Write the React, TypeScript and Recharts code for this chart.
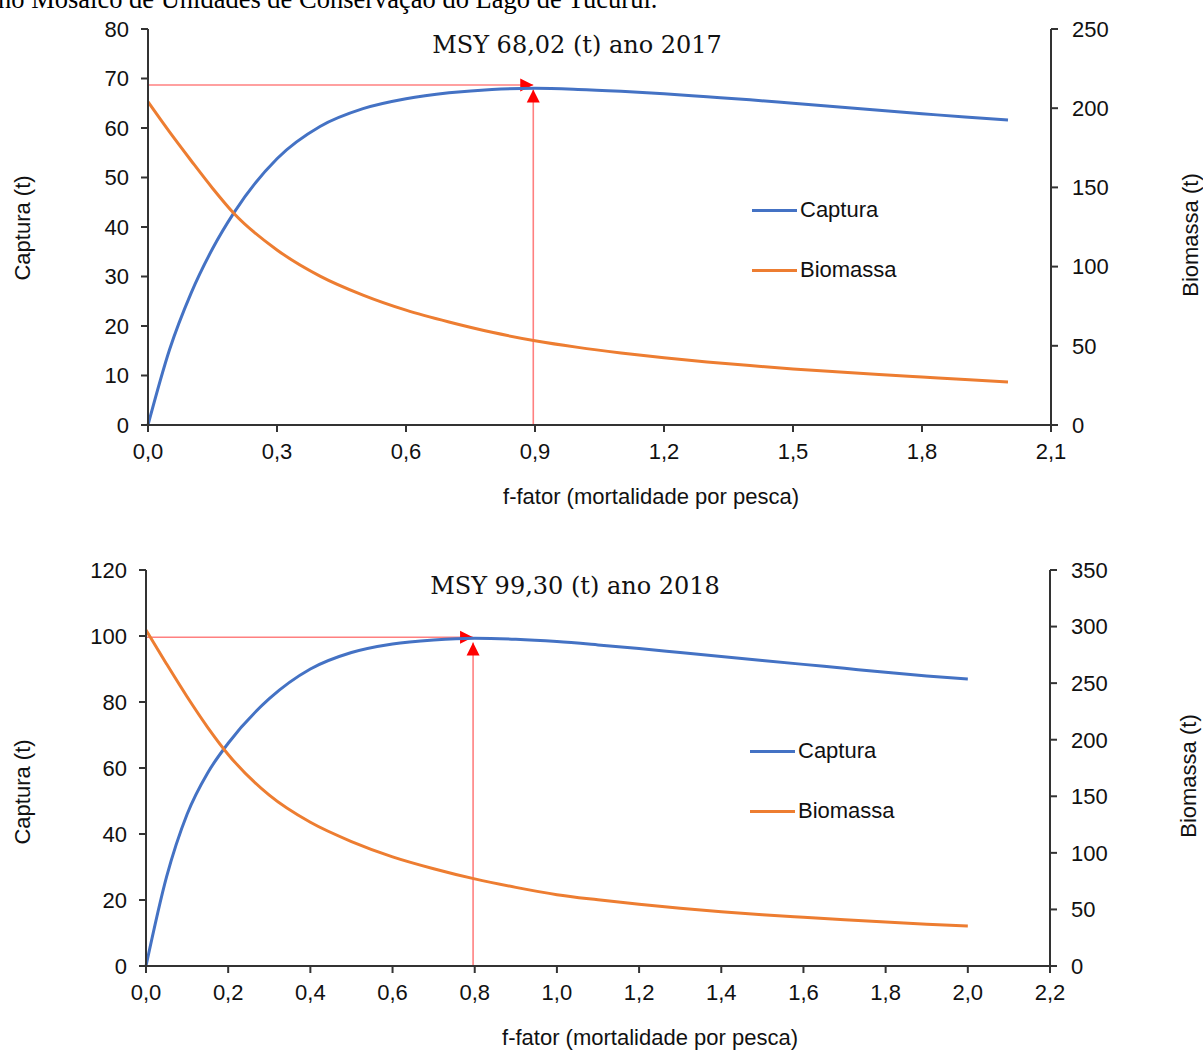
import React from 'react';
import { ComposedChart, Line, XAxis, YAxis, ReferenceLine, Legend } from 'recharts';

// ---------- data ----------
const fValues = [0, 0.05, 0.1, 0.15, 0.2, 0.3, 0.4, 0.5, 0.6, 0.7, 0.8, 0.9, 1.0, 1.1, 1.2, 1.3, 1.4, 1.5, 1.6, 1.7, 1.8, 1.9, 2.0];

const captura2017 = [0, 15.2, 26.6, 35.6, 42.9, 53.8, 60.3, 63.9, 65.9, 67.1, 67.8, 68.02, 67.8, 67.4, 66.9, 66.3, 65.7, 65.0, 64.3, 63.6, 62.9, 62.2, 61.6];
const biomassa2017 = [204, 185, 167, 149.5, 133.5, 110.5, 94, 82, 72.5, 65, 58.5, 53.2, 49, 45.5, 42.4, 39.8, 37.5, 35.4, 33.6, 31.9, 30.3, 28.7, 27.2];

const captura2018 = [0, 27, 46, 58.5, 67.5, 81, 90, 95, 97.6, 98.8, 99.3, 99.0, 98.3, 97.3, 96.2, 95.0, 93.8, 92.6, 91.4, 90.2, 89.0, 87.9, 87.0];
const biomassa2018 = [297, 267, 238, 211, 187, 151, 127, 110, 96.5, 86, 77, 69.5, 63, 58.5, 54.5, 51, 48, 45.3, 43, 40.8, 38.8, 37, 35.4];

const xTicks2017 = [0, 0.3, 0.6, 0.9, 1.2, 1.5, 1.8, 2.1];
const leftTicks2017 = [0, 10, 20, 30, 40, 50, 60, 70, 80];
const rightTicks2017 = [0, 50, 100, 150, 200, 250];

const xTicks2018 = [0, 0.2, 0.4, 0.6, 0.8, 1.0, 1.2, 1.4, 1.6, 1.8, 2.0, 2.2];
const leftTicks2018 = [0, 20, 40, 60, 80, 100, 120];
const rightTicks2018 = [0, 50, 100, 150, 200, 250, 300, 350];

// MSY markers (f at MSY, level of horizontal guide, tip of vertical arrow)
const msy2017 = [0.896, 68.7, 67.8];
const msy2018 = [0.796, 99.6, 98.0];

const title2017 = 'MSY 68,02 (t) ano 2017';
const title2018 = 'MSY 99,30 (t) ano 2018';
const caption = 'no Mosaico de Unidades de Conservação do Lago de Tucuruí.';
const legendOrder = ['Captura', 'Biomassa'];

const data2017 = fValues.map((f, i) => ({ f, captura: captura2017[i], biomassa: biomassa2017[i] }));
const data2018 = fValues.map((f, i) => ({ f, captura: captura2018[i], biomassa: biomassa2018[i] }));

// ---------- styles ----------
const SANS = "'Liberation Sans', Arial, sans-serif";
const SERIF = "'DejaVu Serif', serif";
const axisStyle = { stroke: '#333', strokeWidth: 2 };
const tickFont = { fontFamily: SANS, fontSize: 22, fill: '#111' };
const BLUE = '#4472C4';
const ORANGE = '#ED7D31';

const fmt = (v: number) => v.toFixed(1).replace('.', ',');

const makeArrow = (dir: 'right' | 'up') => (props: any) => {
  const { x1, y1, x2, y2 } = props;
  const L = 13;
  const W = 6.5;
  const pts =
    dir === 'right'
      ? `${x2},${y2} ${x2 - L},${y2 - W} ${x2 - L},${y2 + W}`
      : `${x2},${y2} ${x2 - W},${y2 + L} ${x2 + W},${y2 + L}`;
  return (
    <g>
      <line x1={x1} y1={y1} x2={x2} y2={y2} stroke="#ff8080" strokeWidth={1.6} />
      <polygon points={pts} fill="#ff0000" />
    </g>
  );
};

const LegendBox = (props: any) => {
  const items = (props.payload || [])
    .filter((p: any) => p.type !== 'none')
    .slice()
    .sort((a: any, b: any) => legendOrder.indexOf(a.value) - legendOrder.indexOf(b.value));
  return (
    <div style={{ fontFamily: SANS, fontSize: 22, color: '#111' }}>
      {items.map((p: any) => (
        <div key={p.value} style={{ display: 'flex', alignItems: 'center', height: 60 }}>
          <span style={{ display: 'inline-block', width: 45, height: 3, background: p.color, marginRight: 3 }} />
          <span>{p.value}</span>
        </div>
      ))}
    </div>
  );
};

type PanelProps = {
  top: number;
  height: number;
  marginTop: number;
  xHeight: number;
  leftW: number;
  rightW: number;
  data: any[];
  xMax: number;
  xTicks: number[];
  leftMax: number;
  leftTicks: number[];
  rightMax: number;
  rightTicks: number[];
  msy: number[];
  title: string;
  titleX: number;
  titleY: number;
  xLabelX: number;
  xLabelY: number;
  yLeft: number[];
  yRight: number[];
  legendLeft: number;
  legendTop: number;
};

function Panel(p: PanelProps) {
  const [mf, level, tip] = p.msy;
  return (
    <div style={{ position: 'absolute', left: 0, top: p.top, width: 1203, height: p.height }}>
      <ComposedChart
        width={1203}
        height={p.height}
        data={p.data}
        margin={{ top: p.marginTop, right: 0, bottom: 0, left: 0 }}
      >
        <XAxis
          dataKey="f"
          type="number"
          domain={[0, p.xMax]}
          ticks={p.xTicks}
          tickFormatter={fmt}
          height={p.xHeight}
          tickSize={7}
          tickMargin={11}
          axisLine={axisStyle}
          tickLine={axisStyle}
          tick={tickFont}
          interval={0}
          label={() => (
            <text
              x={p.xLabelX}
              y={p.xLabelY}
              textAnchor="middle"
              dominantBaseline="central"
              style={{ fontFamily: SANS, fontSize: 22, fill: '#111' }}
            >
              f-fator (mortalidade por pesca)
            </text>
          )}
        />
        <YAxis
          yAxisId="left"
          domain={[0, p.leftMax]}
          ticks={p.leftTicks}
          width={p.leftW}
          tickSize={7}
          tickMargin={12}
          axisLine={axisStyle}
          tickLine={axisStyle}
          tick={tickFont}
          interval={0}
          label={() => (
            <text
              x={p.yLeft[0]}
              y={p.yLeft[1]}
              textAnchor="middle"
              dominantBaseline="central"
              transform={`rotate(-90 ${p.yLeft[0]} ${p.yLeft[1]})`}
              style={{ fontFamily: SANS, fontSize: 22, fill: '#111' }}
            >
              Captura (t)
            </text>
          )}
        />
        <YAxis
          yAxisId="right"
          orientation="right"
          domain={[0, p.rightMax]}
          ticks={p.rightTicks}
          width={p.rightW}
          tickSize={7}
          tickMargin={14}
          axisLine={axisStyle}
          tickLine={axisStyle}
          tick={tickFont}
          interval={0}
          label={() => (
            <text
              x={p.yRight[0]}
              y={p.yRight[1]}
              textAnchor="middle"
              dominantBaseline="central"
              transform={`rotate(-90 ${p.yRight[0]} ${p.yRight[1]})`}
              style={{ fontFamily: SANS, fontSize: 22, fill: '#111' }}
            >
              Biomassa (t)
            </text>
          )}
        />
        <ReferenceLine
          yAxisId="left"
          segment={[{ x: 0, y: level }, { x: mf, y: level }]}
          shape={makeArrow('right')}
          ifOverflow="visible"
        />
        <ReferenceLine
          yAxisId="left"
          segment={[{ x: mf, y: 0 }, { x: mf, y: tip }]}
          shape={makeArrow('up')}
          ifOverflow="visible"
        />
        <Line
          yAxisId="left"
          dataKey="captura"
          name="Captura"
          type="monotone"
          stroke={BLUE}
          strokeWidth={3}
          dot={false}
          activeDot={false}
          isAnimationActive={false}
        />
        <Line
          yAxisId="right"
          dataKey="biomassa"
          name="Biomassa"
          type="monotone"
          stroke={ORANGE}
          strokeWidth={3}
          dot={false}
          activeDot={false}
          isAnimationActive={false}
        />
        <Legend
          layout="vertical"
          align="center"
          verticalAlign="middle"
          content={LegendBox}
          wrapperStyle={{ position: 'absolute', left: p.legendLeft, top: p.legendTop, width: 200 }}
        />
      </ComposedChart>
      <div
        style={{
          position: 'absolute',
          left: p.titleX - 200,
          width: 400,
          top: p.titleY - 16,
          height: 32,
          lineHeight: '32px',
          textAlign: 'center',
          fontFamily: SERIF,
          fontSize: 24,
          color: '#111',
          whiteSpace: 'nowrap',
        }}
      >
        {p.title}
      </div>
    </div>
  );
}

export default function App() {
  return (
    <div style={{ position: 'absolute', left: 0, top: 0, width: 1203, height: 1050, background: '#fff', overflow: 'hidden' }}>
      <div
        style={{
          position: 'absolute',
          left: -2,
          top: -14,
          fontFamily: "'Liberation Serif', 'Times New Roman', serif",
          fontSize: 26.5,
          lineHeight: 1,
          color: '#000',
          whiteSpace: 'nowrap',
        }}
      >
        {caption}
      </div>
      <Panel
        top={0}
        height={520}
        marginTop={29}
        xHeight={95}
        leftW={148}
        rightW={152}
        data={data2017}
        xMax={2.1}
        xTicks={xTicks2017}
        leftMax={80}
        leftTicks={leftTicks2017}
        rightMax={250}
        rightTicks={rightTicks2017}
        msy={msy2017}
        title={title2017}
        titleX={577}
        titleY={45}
        xLabelX={651}
        xLabelY={496}
        yLeft={[22, 228]}
        yRight={[1190, 235]}
        legendLeft={752}
        legendTop={180}
      />
      <Panel
        top={540}
        height={510}
        marginTop={30}
        xHeight={84}
        leftW={146}
        rightW={153}
        data={data2018}
        xMax={2.2}
        xTicks={xTicks2018}
        leftMax={120}
        leftTicks={leftTicks2018}
        rightMax={350}
        rightTicks={rightTicks2018}
        msy={msy2018}
        title={title2018}
        titleX={575}
        titleY={46}
        xLabelX={650}
        xLabelY={497}
        yLeft={[22, 252]}
        yRight={[1188, 236]}
        legendLeft={750}
        legendTop={181}
      />
    </div>
  );
}
